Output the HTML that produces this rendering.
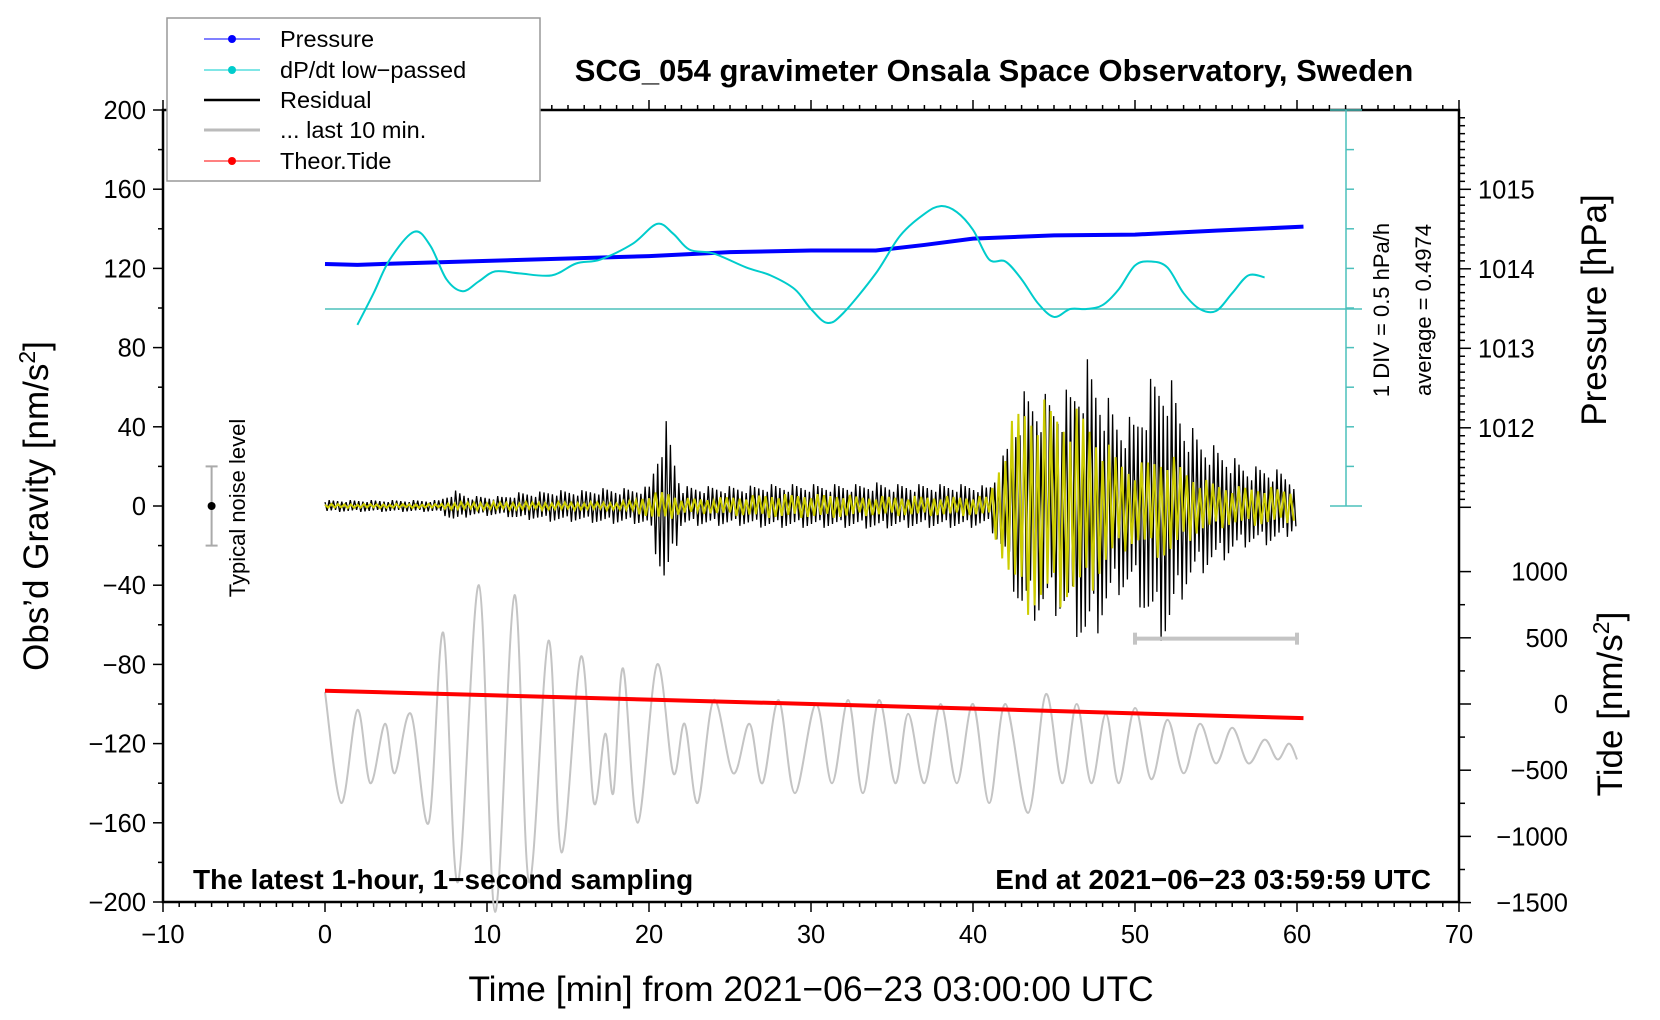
<!DOCTYPE html>
<html><head><meta charset="utf-8">
<style>
html,body{margin:0;padding:0;background:#fff}
svg{display:block;font-family:"Liberation Sans",sans-serif}
</style></head>
<body>
<svg id="chart" width="1660" height="1020" viewBox="0 0 1660 1020" xmlns="http://www.w3.org/2000/svg">
<rect width="1660" height="1020" fill="#fff"/>
<text x="994" y="81" font-size="31" font-weight="bold" text-anchor="middle">SCG_054 gravimeter Onsala Space Observatory, Sweden</text>
<g id="plot"></g>
<g>
<rect x="167" y="18" width="373" height="163" fill="#fff" stroke="#999" stroke-width="1.5"/>
<g><line x1="204" y1="39" x2="260" y2="39" stroke="#00f"/><circle cx="232" cy="39" r="4" fill="#00f"/><text x="280" y="47" font-size="23.5">Pressure</text></g>
<g><line x1="204" y1="70" x2="260" y2="70" stroke="#0cc"/><circle cx="232" cy="70" r="4" fill="#0cc"/><text x="280" y="78" font-size="23.5">dP/dt low−passed</text></g>
<g><line x1="204" y1="100" x2="260" y2="100" stroke="#000" stroke-width="2.5"/><text x="280" y="108" font-size="23.5">Residual</text></g>
<g><line x1="204" y1="130" x2="260" y2="130" stroke="#bbb" stroke-width="3"/><text x="280" y="138" font-size="23.5">... last 10 min.</text></g>
<g><line x1="204" y1="161" x2="260" y2="161" stroke="#f00"/><circle cx="232" cy="161" r="4" fill="#f00"/><text x="280" y="169" font-size="23.5">Theor.Tide</text></g>
</g>
</svg>
<script>
// ---- data ----
const xTicks = [-10,0,10,20,30,40,50,60,70];
const gTicks = [200,160,120,80,40,0,-40,-80,-120,-160,-200];
const pTicks = [1015,1014,1013,1012];
const tideTicks = [1000,500,0,-500,-1000,-1500];
const pressTime = [0,2,5,10,15,20,25,30,34,37,40,45,50,55,60.4];
const pressVal = [1014.06,1014.05,1014.07,1014.10,1014.13,1014.16,1014.21,1014.23,1014.23,1014.30,1014.38,1014.42,1014.43,1014.48,1014.53];
const dpdtTime = [2,3,4,5.5,6.5,7.5,8.5,9.5,10.5,12,14,15.5,17,19,20.5,21.5,22.5,24,26,27.5,29,30,31,32,34,35.5,37,38,39,40,41,42,43,44,45,46,47,48,49,50,51,52,53,54,55,56,57,58];
const dpdtVal = [0.297,0.697,1.122,1.472,1.297,0.872,0.722,0.847,0.972,0.947,0.922,1.072,1.122,1.322,1.572,1.447,1.247,1.197,1.022,0.922,0.747,0.497,0.322,0.447,0.947,1.422,1.697,1.797,1.722,1.497,1.122,1.097,0.872,0.572,0.397,0.497,0.497,0.547,0.747,1.047,1.097,1.022,0.697,0.497,0.472,0.697,0.922,0.897];
const dpdtAverage = 0.4974;
// residual amplitude per minute (nm/s^2), minutes 0..60
const residAmp = [3,3,3,3,3,3,3,3,8,5,5,5,7,7,8,8,8,9,9,9,10,45,10,10,10,10,10,11,11,11,11,11,11,11,12,11,11,11,11,11,11,10,28,58,58,55,60,75,60,45,45,65,70,45,35,30,25,20,20,18,12];
const yellowAmp = [1,1,1,1,1,1,1,1,2,2,2,2,2,2,2,2,2,2,2,3,6,8,4,4,4,5,5,6,6,6,6,6,6,5,5,5,5,5,5,5,5,5,35,55,55,52,50,48,35,25,20,25,28,20,14,12,10,10,10,9,8];
// last 10 min residual extremes (plotted stretched over 0..60 axis)
const lastT = [0,1,2,2.8,3.7,4.3,5.3,6.4,7.3,8.2,9.5,10.5,11.7,12.6,13.8,14.6,15.8,16.6,17.3,17.8,18.4,19.3,20.5,21.5,22.2,23,24,25.2,26.2,27,28,29,30.3,31.3,32.3,33.2,34.2,35.2,36,37,38,39,40,41,42,43.4,44.5,45.5,46.4,47.3,48.2,49,50,51,52,53,54,55,56,57,58,58.8,59.5,60];
const lastV = [-94,-150,-103,-140,-110,-135,-105,-160,-64,-190,-40,-205,-45,-190,-68,-175,-76,-150,-115,-145,-82,-160,-80,-135,-110,-150,-98,-135,-110,-140,-98,-145,-100,-140,-98,-145,-98,-140,-105,-140,-100,-140,-100,-150,-100,-155,-95,-140,-100,-140,-105,-140,-102,-138,-108,-135,-110,-130,-112,-130,-118,-128,-120,-128];
const tideTime = [0,10,20,30,40,50,60.4];
const tideVal = [100,67,33,0,-35,-71,-107];

// ---- axes ----
const X0=163,X1=1459,Y0=110,Y1=902;
const sx = t => X0 + (t+10)*(X1-X0)/80;
const sg = g => Y0 + (200-g)*(Y1-Y0)/400;
const sp = p => 189.3 + (1015-p)*79.5;
const st = v => 704 - v*66.2/500;
const sd = v => 309 - (v-dpdtAverage)/0.5*39.6;
const NS='http://www.w3.org/2000/svg';
const plot=document.getElementById('plot');
function mk(tag,attrs,parent){const e=document.createElementNS(NS,tag);for(const k in attrs)e.setAttribute(k,attrs[k]);(parent||plot).appendChild(e);return e;}
function txt(s,attrs,parent){const e=mk('text',attrs,parent);e.textContent=s;return e;}

const frame=mk('rect',{x:X0,y:Y0,width:X1-X0,height:Y1-Y0,fill:'none',stroke:'#000','stroke-width':2.5});



const xAxis=mk('g',{});


for(let t=-10;t<=70;t++){const L=(t%10===0)?10:5;
 mk('line',{x1:sx(t),x2:sx(t),y1:Y1,y2:Y1+L,stroke:'#000','stroke-width':1.5},xAxis);
 mk('line',{x1:sx(t),x2:sx(t),y1:Y0,y2:Y0-L,stroke:'#000','stroke-width':1.5},xAxis);}
xTicks.forEach(t=>{txt(String(t).replace('-','−'),{x:sx(t),y:Y1+41,'font-size':25.5,'text-anchor':'middle'},xAxis);});
const xt=txt('Time [min] from 2021−06−23 03:00:00 UTC',{x:811,y:1001,'font-size':35.5,'text-anchor':'middle'});



const yAxis=mk('g',{});


for(let g=-200;g<=200;g+=20){const L=(g%40===0)?10:5;mk('line',{x1:X0,x2:X0-L,y1:sg(g),y2:sg(g),stroke:'#000','stroke-width':1.5},yAxis);}
gTicks.forEach(g=>{txt(String(g).replace('-','−'),{x:X0-17,y:sg(g)+9,'font-size':25.5,'text-anchor':'end'},yAxis);});
const yt=mk('text',{transform:'translate(48,506) rotate(-90)','font-size':35,'text-anchor':'middle'});
yt.innerHTML='Obs’d Gravity [nm/s<tspan font-size="23" dy="-13">2</tspan><tspan dy="13">]</tspan>';



const pAxis=mk('g',{});


for(let i=0;i<=50;i++){const p=1011+i*0.1;const y=sp(p);if(y<Y0||y>Y1)continue;const L=(i%10===0)?12:6;mk('line',{x1:X1,x2:X1+L,y1:y,y2:y,stroke:'#000','stroke-width':1.5},pAxis);}
pTicks.forEach(p=>{txt(String(p),{x:X1+19,y:sp(p)+9,'font-size':25.5},pAxis);});
const pt=txt('Pressure [hPa]',{transform:'translate(1606,310) rotate(-90)','font-size':35,'text-anchor':'middle'});



const tAxis=mk('g',{});


for(let v=-1500;v<=1000;v+=250){const L=(v%500===0)?12:6;mk('line',{x1:X1,x2:X1+L,y1:st(v),y2:st(v),stroke:'#000','stroke-width':1.5},tAxis);}
tideTicks.forEach(v=>{txt(String(v).replace('-','−'),{x:1568,y:st(v)+9,'font-size':25.5,'text-anchor':'end'},tAxis);});
const tt=mk('text',{transform:'translate(1622,704) rotate(-90)','font-size':35,'text-anchor':'middle'});
tt.innerHTML='Tide [nm/s<tspan font-size="23" dy="-13">2</tspan><tspan dy="13">]</tspan>';



const scale=mk('g',{});


mk('line',{x1:1346,x2:1346,y1:Y0,y2:sg(0),stroke:'#4cc0bc','stroke-width':1.5},scale);
for(let i=0;i<=10;i++){const y=sg(0)-i*39.6;if(y<Y0-1)break;const L=(i===0||i===10)?16:8;mk('line',{x1:1346-(i===0||i===10?16:0),x2:1346+L,y1:y,y2:y,stroke:'#4cc0bc','stroke-width':1.5},scale);}
txt('1 DIV = 0.5 hPa/h',{transform:'translate(1389,310) rotate(-90)','font-size':22,'text-anchor':'middle'},scale);
txt('average = 0.4974',{transform:'translate(1431,310) rotate(-90)','font-size':22,'text-anchor':'middle'},scale);
const base=mk('line',{x1:sx(0),x2:1362,y1:sd(dpdtAverage),y2:sd(dpdtAverage),stroke:'#4cc0bc','stroke-width':1.5});



function smooth(pts){let d='M'+pts[0][0]+','+pts[0][1];for(let i=0;i<pts.length-1;i++){const p0=pts[Math.max(0,i-1)],p1=pts[i],p2=pts[i+1],p3=pts[Math.min(pts.length-1,i+2)];
 d+=' C'+(p1[0]+(p2[0]-p0[0])/6)+','+(p1[1]+(p2[1]-p0[1])/6)+' '+(p2[0]-(p3[0]-p1[0])/6)+','+(p2[1]-(p3[1]-p1[1])/6)+' '+p2[0]+','+p2[1];}return d;}

const gray=mk('path',{d:smooth(lastT.map((t,i)=>[sx(t),sg(lastV[i])])),fill:'none',stroke:'#c4c4c4','stroke-width':2});



function zig(amp,per){let d='';let k=0;for(let t=0;t<=60;t+=per){const i=Math.min(60,Math.floor(t));const f=t-i;const a=amp[i]*(1-f)+(amp[Math.min(60,i+1)])*f;const s=(k%2?-1:1)*a*(0.65+0.35*((k*7)%5)/4);d+=(k?'L':'M')+sx(t).toFixed(1)+','+sg(s).toFixed(1);k++;}return d;}
const res=mk('path',{d:zig(residAmp,0.13),fill:'none',stroke:'#000','stroke-width':1.3});


const yel=mk('path',{d:zig(yellowAmp,0.2),fill:'none',stroke:'#cccc00','stroke-width':2});



const pr=mk('path',{d:pressTime.map((t,i)=>(i?'L':'M')+sx(t)+','+sp(pressVal[i])).join(''),fill:'none',stroke:'#00f','stroke-width':4});


const dp=mk('path',{d:smooth(dpdtTime.map((t,i)=>[sx(t),sd(dpdtVal[i])])),fill:'none',stroke:'#00cccc','stroke-width':2});


const td=mk('path',{d:tideTime.map((t,i)=>(i?'L':'M')+sx(t)+','+st(tideVal[i])).join(''),fill:'none',stroke:'#f00','stroke-width':4});



const bar=mk('g',{});


mk('line',{x1:sx(50),x2:sx(60),y1:sg(-67),y2:sg(-67),stroke:'#c4c4c4','stroke-width':4},bar);
mk('line',{x1:sx(50),x2:sx(50),y1:sg(-67)-6,y2:sg(-67)+6,stroke:'#c4c4c4','stroke-width':4},bar);
mk('line',{x1:sx(60),x2:sx(60),y1:sg(-67)-6,y2:sg(-67)+6,stroke:'#c4c4c4','stroke-width':4},bar);

const nz=mk('g',{});


mk('line',{x1:sx(-7),x2:sx(-7),y1:sg(20),y2:sg(-20),stroke:'#aaa','stroke-width':2},nz);
mk('line',{x1:sx(-7)-6,x2:sx(-7)+6,y1:sg(20),y2:sg(20),stroke:'#aaa','stroke-width':2},nz);
mk('line',{x1:sx(-7)-6,x2:sx(-7)+6,y1:sg(-20),y2:sg(-20),stroke:'#aaa','stroke-width':2},nz);
mk('circle',{cx:sx(-7),cy:sg(0),r:4,fill:'#000'},nz);
txt('Typical noise level',{transform:'translate(245,508) rotate(-90)','font-size':22,'text-anchor':'middle'},nz);

const b1=txt('The latest 1-hour, 1−second sampling',{x:193,y:889,'font-size':28,'font-weight':'bold'});


const b2=txt('End at 2021−06−23 03:59:59 UTC',{x:1431,y:889,'font-size':28,'font-weight':'bold','text-anchor':'end'});


</script>
</body></html>
